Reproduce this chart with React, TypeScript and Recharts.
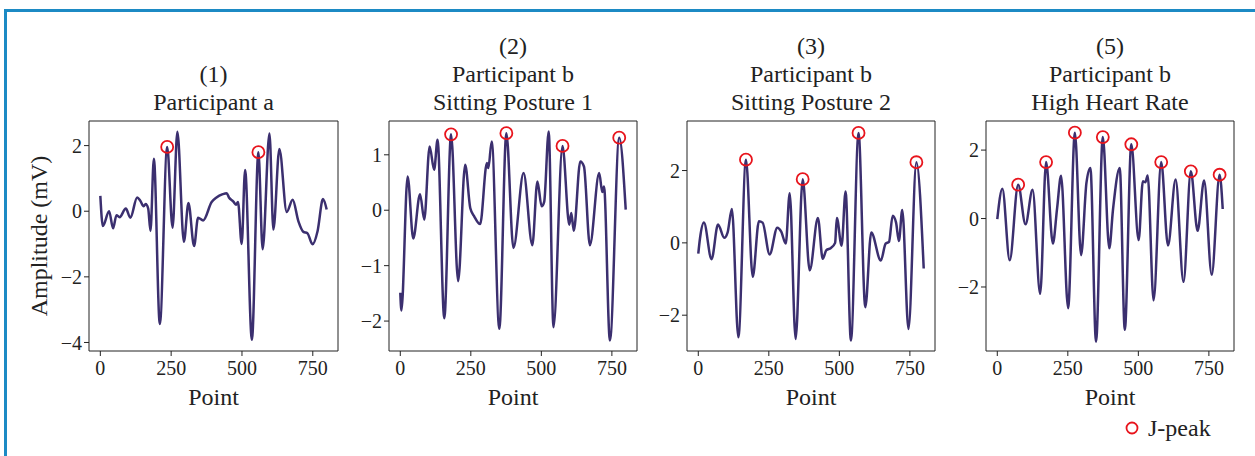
import React from 'react'
import { ComposedChart, Line, Scatter, XAxis, YAxis, ReferenceArea } from 'recharts'

// [point, amplitude (mV)] at the turning points of each trace
const panel1Signal = [
  [0, 0.47], [9, -0.45], [31, 0.0], [45, -0.52], [57, -0.12], [68, -0.18], [90, 0.08],
  [106, -0.2], [130, 0.42], [141, 0.32], [153, 0.15], [160, 0.22], [169, 0.08], [177, -0.6],
  [189, 1.6], [210, -3.44], [236, 1.96], [255, -0.5], [272, 2.42], [295, -0.93], [311, 0.25],
  [331, -1.06], [345, -0.2], [363, -0.28], [393, 0.28], [410, 0.42], [432, 0.52], [446, 0.55],
  [454, 0.42], [469, 0.3], [479, 0.2], [486, 0.28], [499, -1.0], [511, 1.26], [535, -3.92],
  [558, 1.8], [573, -1.16], [597, 2.37], [611, -0.56], [632, 1.9], [658, -0.02], [679, 0.35],
  [699, -0.3], [717, -0.63], [731, -0.67], [749, -1.01], [767, -0.6], [786, 0.37], [799, 0.05],
]
const panel1Peaks = [236, 558]

const panel2Signal = [
  [0, -1.49], [4, -1.81], [26, 0.61], [46, -0.51], [70, 0.29], [85, -0.17], [104, 1.15],
  [120, 0.73], [132, 1.27], [156, -1.95], [180, 1.37], [205, -1.28], [230, 0.82], [248, 0.04],
  [262, -0.11], [283, -0.25], [307, 0.85], [312, 0.76], [324, 1.24], [351, -2.14], [376, 1.39],
  [401, -0.68], [437, 0.67], [468, -0.63], [486, 0.52], [501, 0.07], [510, 0.15], [526, 1.42],
  [543, -2.11], [575, 1.16], [599, -0.26], [606, -0.05], [615, -0.37], [638, 0.88], [651, 0.79],
  [672, -0.63], [705, 0.67], [716, 0.33], [722, 0.43], [743, -2.35], [776, 1.31], [799, 0.01],
]
const panel2Peaks = [180, 376, 575, 776]

const panel3Signal = [
  [0, -0.3], [6, 0.12], [20, 0.56], [47, -0.45], [70, 0.51], [92, 0.14], [104, 0.29],
  [119, 0.94], [142, -2.61], [169, 2.3], [193, -0.94], [215, 0.6], [228, 0.56], [253, -0.32],
  [280, 0.42], [294, 0.31], [310, -0.02], [324, 1.37], [345, -2.66], [370, 1.76], [395, -0.76],
  [424, 0.69], [441, -0.44], [454, -0.2], [470, -0.14], [485, 0.0], [491, 0.69], [508, -0.08],
  [522, 1.42], [541, -2.7], [568, 3.04], [592, -1.78], [613, 0.29], [647, -0.49], [664, -0.02],
  [676, 0.03], [689, 0.75], [701, 0.56], [711, 0.05], [723, 0.91], [745, -2.38], [773, 2.23],
  [799, -0.71],
]
const panel3Peaks = [169, 370, 568, 773]

const panel4Signal = [
  [0, -0.02], [18, 0.87], [44, -1.22], [74, 0.99], [100, -0.17], [125, 0.84], [152, -2.2],
  [173, 1.65], [197, -0.73], [212, 0.3], [226, 1.25], [251, -2.62], [275, 2.51], [297, -1.07],
  [316, 1.04], [330, 1.48], [350, -3.6], [374, 2.38], [397, -0.87], [410, 0.25], [434, 1.48],
  [452, -3.25], [475, 2.17], [501, -0.63], [516, 1.09], [525, 1.06], [533, 1.26], [554, -2.39],
  [581, 1.65], [605, -0.79], [632, 1.14], [660, -1.85], [686, 1.38], [710, -0.36], [733, 1.11],
  [760, -1.64], [788, 1.28], [799, 0.28],
]
const panel4Peaks = [74, 173, 275, 374, 475, 581, 686, 788]

const xTicks = [0, 250, 500, 750]
const panel1YTicks = [-4, -2, 0, 2]
const panel2YTicks = [-2, -1, 0, 1]
const panel3YTicks = [-2, 0, 2]
const panel4YTicks = [-2, 0, 2]

const panel1Title = ['(1)', 'Participant a']
const panel2Title = ['(2)', 'Participant b', 'Sitting Posture 1']
const panel3Title = ['(3)', 'Participant b', 'Sitting Posture 2']
const panel4Title = ['(5)', 'Participant b', 'High Heart Rate']

const FONT = '"Liberation Serif", "Times New Roman", serif'
const LINE_COLOR = '#3b2f6f'
const PEAK_COLOR = '#e8141c'
const INK = '#222'
const TOP = 121
const BOTTOM = 351

const minus = (v: number) => String(v).replace('-', '\u2212')

const PeakMark = (props: any) => (
  <circle cx={props.cx} cy={props.cy} r={6} fill="none" stroke={PEAK_COLOR} strokeWidth={1.8} />
)

const Panel = ({ signal, peaks, yDomain, yTicks, left, right }: any) => {
  const data = signal.map(([x, y]: number[]) => ({ x, y }))
  const peakData = data.filter((d: any) => peaks.includes(d.x))
  const tick = { fontSize: 20, fontFamily: FONT, fill: INK }
  return (
    <div style={{ position: 'absolute', left: left - 60, top: TOP - 10 }}>
      <ComposedChart
        width={right - left + 70}
        height={BOTTOM - TOP + 70}
        margin={{ top: 10, right: 10, bottom: 0, left: 0 }}
      >
        <XAxis
          type="number"
          dataKey="x"
          domain={[-40, 839]}
          allowDataOverflow
          ticks={xTicks}
          height={60}
          axisLine={false}
          tickLine={{ stroke: INK }}
          tickSize={5}
          tickMargin={5}
          tick={tick}
        />
        <YAxis
          type="number"
          dataKey="y"
          domain={yDomain}
          allowDataOverflow
          ticks={yTicks}
          width={60}
          axisLine={false}
          tickLine={{ stroke: INK }}
          tickSize={5}
          tickMargin={2}
          tick={tick}
          tickFormatter={minus}
        />
        <ReferenceArea
          x1={-40}
          x2={839}
          y1={yDomain[0]}
          y2={yDomain[1]}
          fill="none"
          stroke={INK}
          strokeWidth={1}
          ifOverflow="visible"
        />
        <Line
          data={data}
          dataKey="y"
          type="monotone"
          stroke={LINE_COLOR}
          strokeWidth={2.5}
          dot={false}
          isAnimationActive={false}
        />
        <Scatter data={peakData} dataKey="y" shape={PeakMark} isAnimationActive={false} />
      </ComposedChart>
    </div>
  )
}

const Title = ({ lines, cx }: { lines: string[]; cx: number }) => (
  <>
    {lines.map((t, i) => (
      <text key={t} x={cx} y={110 - (lines.length - 1 - i) * 28} textAnchor="middle">
        {t}
      </text>
    ))}
  </>
)

const App = () => {
  return (
    <div
      style={{
        position: 'absolute',
        left: 0,
        top: 0,
        width: 1255,
        height: 456,
        background: '#fff',
        overflow: 'hidden',
      }}
    >
      <div style={{ position: 'absolute', left: 4, top: 9, width: 1251, height: 3, background: '#1c8ac4' }} />
      <div style={{ position: 'absolute', left: 4, top: 9, width: 3, height: 447, background: '#1c8ac4' }} />

      <Panel signal={panel1Signal} peaks={panel1Peaks} yDomain={[-4.26, 2.75]} yTicks={panel1YTicks} left={89} right={338} />
      <Panel signal={panel2Signal} peaks={panel2Peaks} yDomain={[-2.54, 1.61]} yTicks={panel2YTicks} left={389} right={637} />
      <Panel signal={panel3Signal} peaks={panel3Peaks} yDomain={[-2.99, 3.37]} yTicks={panel3YTicks} left={687} right={935} />
      <Panel signal={panel4Signal} peaks={panel4Peaks} yDomain={[-3.87, 2.85]} yTicks={panel4YTicks} left={986} right={1234} />

      <svg
        width={1255}
        height={456}
        style={{ position: 'absolute', left: 0, top: 0, pointerEvents: 'none' }}
        fontFamily={FONT}
        fill={INK}
      >
        <g fontSize={24}>
          <Title lines={panel1Title} cx={213.5} />
          <Title lines={panel2Title} cx={513} />
          <Title lines={panel3Title} cx={811} />
          <Title lines={panel4Title} cx={1110} />
          {[213.5, 513, 811, 1110].map((cx) => (
            <text key={cx} x={cx} y={405} textAnchor="middle">
              Point
            </text>
          ))}
          <text transform="translate(47,236) rotate(-90)" textAnchor="middle">
            Amplitude (mV)
          </text>
        </g>
        <circle cx={1132} cy={428} r={5.5} fill="none" stroke={PEAK_COLOR} strokeWidth={1.8} />
        <text x={1148} y={436} fontSize={24}>
          J-peak
        </text>
      </svg>
    </div>
  )
}

export default App
